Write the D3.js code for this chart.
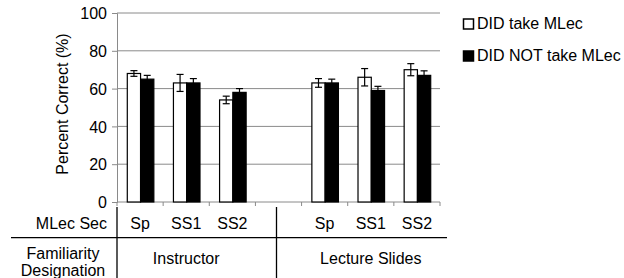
<!DOCTYPE html>
<html>
<head>
<meta charset="utf-8">
<script src="https://cdn.jsdelivr.net/npm/d3@7"></script>
<style>
  html, body { margin: 0; padding: 0; background: #fff; }
  svg text { font-family: "Liberation Sans", Arial, Helvetica, sans-serif; fill: #000; }
</style>
</head>
<body>
<svg id="chart" width="624" height="278"></svg>
<script>
// ---- data ----
const designations = ["Instructor", "Lecture Slides"];
const sections = ["Sp", "SS1", "SS2"];
const seriesNames = ["DID take MLec", "DID NOT take MLec"];
// values per designation, per section
const didTake    = [[68, 63, 54], [63, 66, 70]];
const didTakeErr = [[1.5, 4.5, 2.0], [2.3, 4.6, 3.2]];
const didNot     = [[65, 63, 58], [63, 59, 67]];
const didNotErr  = [[2.0, 2.3, 2.0], [2.0, 2.2, 2.4]];
const yTicks = [0, 20, 40, 60, 80, 100];
const yLabel = "Percent Correct (%)";
const rowLabel1 = "MLec Sec";
const rowLabel2 = ["Familiarity", "Designation"];

(function () {
// ---- layout ----
const svg = d3.select("#chart");
const pL = 117, pR = 440, pT = 13, pB = 202;

// slots: 3 sections, gap, 3 sections
const slots = [];
designations.forEach((d, di) => {
  sections.forEach((s, si) => slots.push({ key: di + "-" + s, di, si, label: s }));
  if (di < designations.length - 1) slots.push({ key: "gap" + di, gap: true });
});

const x = d3.scaleBand().domain(slots.map(s => s.key)).range([pL, pR]).padding(0);
const y = d3.scaleLinear().domain([0, 100]).range([pB, pT]);
const inner = d3.scaleBand().domain(seriesNames).range([1, x.bandwidth()]).paddingInner(0).paddingOuter(0.7);

// gridlines
svg.append("g").selectAll("line").data(yTicks.filter(t => t > 0)).join("line")
  .attr("x1", pL).attr("x2", pR)
  .attr("y1", d => y(d)).attr("y2", d => y(d))
  .attr("stroke", "#8a8a8a").attr("stroke-width", 1);

// y axis
const yAxis = svg.append("g").attr("transform", `translate(${pL},0)`)
  .call(d3.axisLeft(y).tickValues(yTicks).tickSize(5).tickPadding(5));
yAxis.select(".domain").attr("stroke", "#8a8a8a");
yAxis.selectAll(".tick line").attr("stroke", "#8a8a8a");
yAxis.selectAll("text").style("font-size", "16px").attr("dy", "0.36em");

// x axis line with boundary ticks
svg.append("line").attr("x1", pL).attr("x2", pR).attr("y1", pB).attr("y2", pB)
  .attr("stroke", "#8a8a8a");
const boundaries = slots.map(s => x(s.key)).concat([pR]);
svg.append("g").selectAll("line").data(boundaries).join("line")
  .attr("x1", d => d).attr("x2", d => d).attr("y1", pB).attr("y2", pB + 4)
  .attr("stroke", "#8a8a8a");

// bars
const barData = [];
slots.filter(s => !s.gap).forEach(s => {
  barData.push({ slot: s.key, series: seriesNames[0], v: didTake[s.di][s.si], e: didTakeErr[s.di][s.si], fill: "#fff" });
  barData.push({ slot: s.key, series: seriesNames[1], v: didNot[s.di][s.si], e: didNotErr[s.di][s.si], fill: "#000" });
});
svg.append("g").selectAll("rect").data(barData).join("rect")
  .attr("x", d => x(d.slot) + inner(d.series))
  .attr("y", d => y(d.v))
  .attr("width", inner.bandwidth())
  .attr("height", d => y(0) - y(d.v))
  .attr("fill", d => d.fill)
  .attr("stroke", "#000").attr("stroke-width", 1.2);

// error bars
const eg = svg.append("g").attr("stroke", "#000").attr("stroke-width", 1.2);
barData.forEach(d => {
  const cx = x(d.slot) + inner(d.series) + inner.bandwidth() / 2;
  const cap = 3.5;
  eg.append("line").attr("x1", cx).attr("x2", cx).attr("y1", y(d.v + d.e)).attr("y2", y(d.v - d.e));
  eg.append("line").attr("x1", cx - cap).attr("x2", cx + cap).attr("y1", y(d.v + d.e)).attr("y2", y(d.v + d.e));
  eg.append("line").attr("x1", cx - cap).attr("x2", cx + cap).attr("y1", y(d.v - d.e)).attr("y2", y(d.v - d.e));
});

// y label
svg.append("text")
  .attr("transform", `translate(68,104) rotate(-90)`)
  .attr("text-anchor", "middle")
  .style("font-size", "16px")
  .text(yLabel);

// table below
const row1 = 229, row2 = 264, hline = 237.7;
svg.append("text").attr("x", 107).attr("y", row1).attr("text-anchor", "end").style("font-size", "16px").text(rowLabel1);
svg.append("g").selectAll("text").data(slots.filter(s => !s.gap)).join("text")
  .attr("x", d => x(d.key) + x.bandwidth() / 2)
  .attr("y", row1).attr("text-anchor", "middle").style("font-size", "16px")
  .text(d => d.label);
svg.append("text").attr("x", 63).attr("y", 259).attr("text-anchor", "middle").style("font-size", "16px").text(rowLabel2[0]);
svg.append("text").attr("x", 63).attr("y", 276).attr("text-anchor", "middle").style("font-size", "16px").text(rowLabel2[1]);

designations.forEach((d, di) => {
  const keys = sections.map(s => di + "-" + s);
  const cx = (x(keys[0]) + x(keys[keys.length - 1]) + x.bandwidth()) / 2;
  svg.append("text").attr("x", cx).attr("y", row2).attr("text-anchor", "middle").style("font-size", "16px").text(d);
});

// table lines
const gapSlot = slots.find(s => s.gap);
const sepX = x(gapSlot.key) + x.bandwidth() / 2 - 2;
svg.append("line").attr("x1", 11).attr("x2", pR + 7).attr("y1", hline).attr("y2", hline).attr("stroke", "#000").attr("stroke-width", 1.3);
svg.append("line").attr("x1", pL).attr("x2", pL).attr("y1", 207).attr("y2", 278).attr("stroke", "#000").attr("stroke-width", 1.3);
svg.append("line").attr("x1", sepX).attr("x2", sepX).attr("y1", 207).attr("y2", 278).attr("stroke", "#000").attr("stroke-width", 1.3);

// legend
const lg = svg.append("g");
seriesNames.forEach((n, i) => {
  const ly = 29 + i * 32;
  lg.append("rect").attr("x", 463.5).attr("y", ly - 10).attr("width", 10).attr("height", 10)
    .attr("fill", i === 0 ? "#fff" : "#000").attr("stroke", "#000").attr("stroke-width", 1.5);
  lg.append("text").attr("x", 477).attr("y", ly).style("font-size", "16px").text(n);
});
})();
</script>
</body>
</html>
